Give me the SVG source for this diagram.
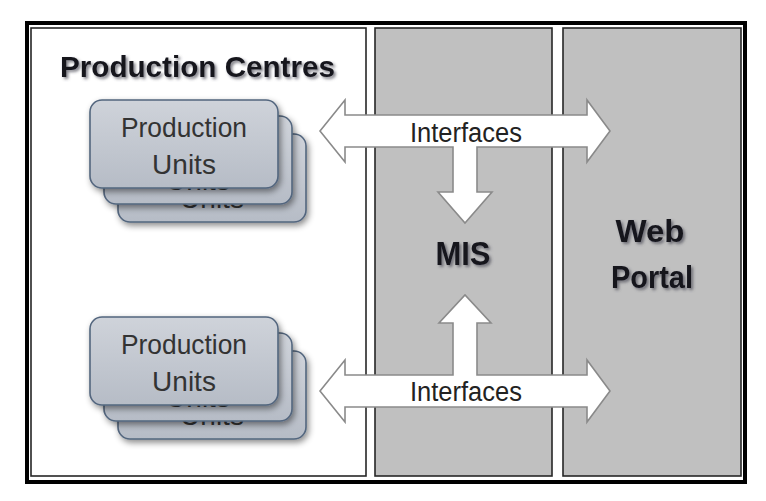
<svg xmlns="http://www.w3.org/2000/svg" width="766" height="501" viewBox="0 0 766 501">
<style>
.panel{stroke:#262626;stroke-width:1.6}
.card{fill:url(#cardg);stroke:#53667e;stroke-width:1.6}
.ct{font-family:"Liberation Sans",Arial,sans-serif;font-size:28px;fill:#333;text-anchor:middle}
.big{font-family:"Liberation Sans",Arial,sans-serif;font-weight:bold;fill:#15151f}
.arrow{fill:#fff;stroke:#8a8a8a;stroke-width:1.6;stroke-linejoin:miter}
.it{font-family:"Liberation Sans",Arial,sans-serif;font-size:27px;fill:#222;text-anchor:middle}
</style>
<defs>
<linearGradient id="cardg" x1="0" y1="0" x2="0" y2="1">
<stop offset="0" stop-color="#cfd3da"/>
<stop offset="1" stop-color="#b6bcc6"/>
</linearGradient>
<filter id="sh" x="-20%" y="-20%" width="150%" height="160%">
<feDropShadow dx="2" dy="3" stdDeviation="3" flood-color="#000" flood-opacity="0.45"/>
</filter>
<filter id="tsh" x="-10%" y="-20%" width="130%" height="160%">
<feDropShadow dx="2" dy="2" stdDeviation="1.6" flood-color="#4a4a55" flood-opacity="0.7"/>
</filter>
<g id="stack">
<rect class="card" x="28" y="34" width="188" height="88" rx="12" filter="url(#sh)"/>
<text class="ct" x="122" y="71" textLength="126" lengthAdjust="spacingAndGlyphs">Production</text>
<text class="ct" x="122" y="108">Units</text>
<rect class="card" x="14" y="16" width="188" height="88" rx="12" filter="url(#sh)"/>
<text class="ct" x="108" y="53" textLength="126" lengthAdjust="spacingAndGlyphs">Production</text>
<text class="ct" x="108" y="90">Units</text>
<rect class="card" x="0" y="0" width="188" height="88" rx="12" filter="url(#sh)"/>
<text class="ct" x="94" y="37" textLength="126" lengthAdjust="spacingAndGlyphs">Production</text>
<text class="ct" x="94" y="74">Units</text>
</g>
</defs>
<rect x="0" y="0" width="766" height="501" fill="#fff"/>
<rect x="27" y="23" width="718" height="459" fill="#fff" stroke="#000" stroke-width="4"/>
<g id="production-centres">
<rect class="panel" x="31" y="28" width="335" height="448" fill="#fff"/>
<text class="big" x="60" y="77" font-size="30" textLength="275" lengthAdjust="spacingAndGlyphs" filter="url(#tsh)">Production Centres</text>
</g>
<g id="mis">
<rect class="panel" x="375" y="28" width="177" height="448" fill="#c0c0c0"/>
<text class="big" x="463" y="265" font-size="34" text-anchor="middle" textLength="55" lengthAdjust="spacingAndGlyphs" filter="url(#tsh)">MIS</text>
</g>
<g id="web-portal">
<rect class="panel" x="563" y="28" width="178" height="448" fill="#c0c0c0"/>
<text class="big" x="650" y="242" font-size="31" text-anchor="middle" textLength="69" lengthAdjust="spacingAndGlyphs" filter="url(#tsh)">Web</text>
<text class="big" x="652" y="288" font-size="31" text-anchor="middle" textLength="82" lengthAdjust="spacingAndGlyphs" filter="url(#tsh)">Portal</text>
</g>
<g id="production-units-1">
<use href="#stack" x="90" y="100"/>
</g>
<g id="production-units-2">
<use href="#stack" x="90" y="317"/>
</g>
<g id="connectors">
<path class="arrow" d="M320,131 L345,100 L345,115 L587,115 L587,100 L610,131 L587,162 L587,147 L477,147 L477,192 L492,192 L465,223 L438,192 L453,192 L453,147 L345,147 L345,162 Z"/>
<text class="it" x="466" y="142" textLength="112" lengthAdjust="spacingAndGlyphs">Interfaces</text>
<path class="arrow" d="M320,391 L345,360 L345,375 L453,375 L453,323 L439,323 L465,295 L491,323 L477,323 L477,375 L587,375 L587,360 L610,391 L587,422 L587,407 L345,407 L345,422 Z"/>
<text class="it" x="466" y="401" textLength="112" lengthAdjust="spacingAndGlyphs">Interfaces</text>
</g>
</svg>
